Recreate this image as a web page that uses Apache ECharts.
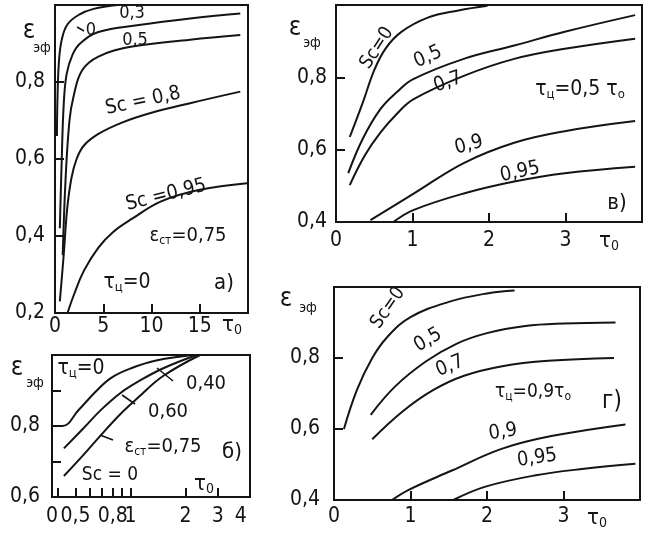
<!DOCTYPE html>
<html><head><meta charset="utf-8">
<script src="https://cdn.jsdelivr.net/npm/echarts@6/dist/echarts.min.js"></script>
<style>html,body{margin:0;padding:0;background:#fff}#c{width:665px;height:534px}</style>
</head><body><div id="c"></div>
<script>
// ---------- Panel а) : tau_ts = 0, eps_st = 0.75 ----------
const aSc0   = [[0.2,0.66],[0.25,0.75],[0.4,0.85],[0.7,0.91],[1.3,0.95],[2.5,0.975],[4,0.99],[6.5,1.0]];
const aSc03  = [[0.5,0.42],[0.7,0.6],[0.9,0.74],[1.2,0.82],[1.8,0.87],[2.6,0.9],[4.5,0.93],[8.7,0.948],[14,0.965],[19.2,0.978]];
const aSc05  = [[0.8,0.35],[1.1,0.55],[1.5,0.7],[1.9,0.76],[2.8,0.83],[4.5,0.866],[8,0.892],[14,0.91],[19.2,0.922]];
const aSc08  = [[0.5,0.23],[0.9,0.35],[1.26,0.47],[1.7,0.55],[2.24,0.6],[3,0.635],[4.5,0.665],[7,0.695],[10,0.72],[14,0.745],[19.2,0.775]];
const aSc095 = [[1.3,0.2],[2,0.25],[3,0.31],[4.5,0.37],[6,0.41],[8,0.445],[11,0.49],[15,0.52],[19.9,0.537]];
// ---------- Panel б) : tau_ts = 0, Sc = 0, log tau_0 ----------
const bEps040 = [[0.372,0.8],[0.425,0.8],[0.52,0.845],[0.64,0.895],[0.78,0.935],[1.0,0.962],[1.4,0.985],[2.2,1.0]];
const bEps060 = [[0.432,0.737],[0.556,0.795],[0.685,0.844],[0.881,0.893],[1.1,0.925],[1.5,0.962],[2.3,1.0]];
const bEps075 = [[0.432,0.659],[0.556,0.72],[0.685,0.773],[0.881,0.834],[1.1,0.88],[1.5,0.94],[2.4,1.0]];
const bTickValues  = [0.4,0.5,0.6,0.7,0.8,0.9,1,2,3];
const bLabelValues = [0.372,0.5,0.8,1,2,3,4];
// ---------- Panel в) : tau_ts = 0.5 tau_0 ----------
const vSc0   = [[0.18,0.635],[0.35,0.73],[0.5,0.82],[0.65,0.88],[0.85,0.925],[1.2,0.965],[1.6,0.985],[1.98,0.998]];
const vSc05  = [[0.16,0.535],[0.35,0.63],[0.58,0.712],[0.8,0.76],[1.01,0.795],[1.67,0.851],[2.33,0.888],[2.99,0.926],[3.91,0.972]];
const vSc07  = [[0.18,0.502],[0.38,0.585],[0.58,0.647],[0.8,0.7],[1.01,0.739],[1.67,0.804],[2.33,0.851],[2.99,0.879],[3.91,0.907]];
const vSc09  = [[0.45,0.405],[1.02,0.479],[1.67,0.563],[2.33,0.619],[2.99,0.651],[3.91,0.679]];
const vSc095 = [[0.75,0.4],[1.01,0.433],[1.67,0.479],[2.33,0.512],[2.99,0.535],[3.91,0.553]];
// ---------- Panel г) : tau_ts = 0.9 tau_0 ----------
const gSc0   = [[0.13,0.6],[0.3,0.71],[0.5,0.8],[0.7,0.86],[1.0,0.915],[1.5,0.958],[2.0,0.982],[2.36,0.99]];
const gSc05  = [[0.48,0.64],[0.8,0.72],[1.2,0.79],[1.6,0.84],[2.0,0.87],[2.5,0.89],[3.0,0.897],[3.68,0.9]];
const gSc07  = [[0.5,0.571],[0.9,0.65],[1.3,0.71],[1.7,0.75],[2.2,0.777],[2.8,0.792],[3.66,0.8]];
const gSc09  = [[0.76,0.4],[0.97,0.428],[1.54,0.483],[2.19,0.544],[2.84,0.58],[3.81,0.613]];
const gSc095 = [[1.56,0.4],[1.97,0.437],[2.62,0.469],[3.27,0.488],[3.94,0.502]];

const FONT = "'DejaVu Sans Condensed','Liberation Sans Narrow','DejaVu Sans',sans-serif";
const INK = '#141414';
const comma = v => String(Math.round(v*100)/100).replace('.', ',');

const chart = echarts.init(document.getElementById('c'), null, {renderer:'canvas'});

function xAx(grid, min, max, interval, margin, extra) {
  return Object.assign({
    type:'value', gridIndex:grid, min, max, interval,
    axisLine:{show:true, onZero:false, lineStyle:{color:INK, width:2}},
    axisTick:{show:true, inside:true, length:9, lineStyle:{color:INK, width:2}},
    splitLine:{show:false},
    axisLabel:{color:INK, fontFamily:FONT, fontSize:21, margin,
      formatter: v => (v >= max - 1e-9 ? '' : comma(v))}
  }, extra || {});
}
function yAx(grid, min, max, interval, margin, extra) {
  return Object.assign({
    type:'value', gridIndex:grid, min, max, interval,
    axisLine:{show:true, onZero:false, lineStyle:{color:INK, width:2}},
    axisTick:{show:true, inside:true, length:9, lineStyle:{color:INK, width:2}},
    splitLine:{show:false},
    axisLabel:{color:INK, fontFamily:FONT, fontSize:21, margin,
      formatter: v => (v >= max - 1e-9 ? '' : comma(v))}
  }, extra || {});
}
function line(data, xi) {
  return {type:'line', xAxisIndex:xi, yAxisIndex:xi, data, symbol:'none', smooth:0.4,
    clip:true, lineStyle:{color:INK, width:2}, silent:true, animation:false};
}
function txt(x, y, text, size, rot, extra) {
  return Object.assign({type:'text', x, y, rotation:(rot||0)*Math.PI/180, silent:true,
    style:{text, fill:INK, font: (size||19)+'px '+FONT, align:'center', verticalAlign:'middle'}}, extra||{});
}
function rich(x, y, text, size, rot) {
  const s = size || 20;
  return {type:'text', x, y, rotation:(rot||0)*Math.PI/180, silent:true,
    style:{text, fill:INK, fontFamily:FONT, fontSize:s, align:'center', verticalAlign:'middle',
      rich:{ s:{fontFamily:FONT, fontSize:Math.round(s*0.62), fill:INK, padding:[Math.round(s*0.45),0,0,0]} }}};
}
function seg(x1,y1,x2,y2){ return {type:'line', silent:true, shape:{x1,y1,x2,y2}, style:{stroke:INK, lineWidth:1.6}}; }

const gridStyle = {show:true, borderColor:INK, borderWidth:2, backgroundColor:'transparent', containLabel:false};

chart.setOption({
  animation:false,
  backgroundColor:'#fff',
  grid:[
    Object.assign({left:55, top:5, width:193, height:308}, gridStyle),
    Object.assign({left:52, top:355, width:198, height:142}, gridStyle),
    Object.assign({left:336, top:5, width:306, height:217}, gridStyle),
    Object.assign({left:334, top:287, width:306, height:213}, gridStyle)
  ],
  xAxis:[
    xAx(0, 0, 20, 5, 3),
    {type:'log', gridIndex:1, logBase:10, min:0.372, max:4.5,
      axisLine:{show:true, onZero:false, lineStyle:{color:INK, width:2}},
      axisTick:{show:true, inside:true, length:9, lineStyle:{color:INK, width:2}, customValues:bTickValues},
      splitLine:{show:false}, minorTick:{show:false},
      axisLabel:{color:INK, fontFamily:FONT, fontSize:21, margin:9, customValues:bLabelValues,
        formatter: v => (v < 0.45 ? '0' : comma(v))}},
    xAx(2, 0, 4, 1, 8),
    xAx(3, 0, 4, 1, 6)
  ],
  yAxis:[
    yAx(0, 0.2, 1.0, 0.2, 10),
    yAx(1, 0.6, 1.0, 0.1, 12, {axisLabel:{color:INK, fontFamily:FONT, fontSize:21, margin:12,
      formatter: v => (Math.abs(v-0.6)<1e-6 || Math.abs(v-0.8)<1e-6 ? comma(v) : '')}}),
    yAx(2, 0.4, 1.0, 0.2, 9),
    yAx(3, 0.4, 1.0, 0.2, 14)
  ],
  series:[
    line(aSc0,0), line(aSc03,0), line(aSc05,0), line(aSc08,0), line(aSc095,0),
    line(bEps040,1), line(bEps060,1), line(bEps075,1),
    line(vSc0,2), line(vSc05,2), line(vSc07,2), line(vSc09,2), line(vSc095,2),
    line(gSc0,3), line(gSc05,3), line(gSc07,3), line(gSc09,3), line(gSc095,3)
  ],
  graphic:[
    // panel а)
    txt(29,31,'ε',26), txt(42,48,'эф',14),
    txt(91,30,'0',18), seg(84,31,77,27),
    txt(132,13,'0,3',18), txt(135,40,'0,5',18),
    txt(143,101,'Sc = 0,8',20,12),
    txt(166,195,'Sc =0,95',20,14),
    rich(188,236,'ε{s|ст}=0,75',20),
    rich(127,283,'τ{s|ц}=0',21),
    txt(224,283,'а)',22),
    rich(232,325,'τ{s|0}',22),
    // panel б)
    txt(17,368,'ε',26), txt(35,383,'эф',14),
    rich(81,369,'τ{s|ц}=0',21),
    txt(206,384,'0,40',20), seg(173,381,157,368),
    txt(168,412,'0,60',20), seg(135,404,122,395),
    rich(163,447,'ε{s|ст}=0,75',20), seg(113,440,100,435),
    txt(232,452,'б)',22),
    txt(110,475,'Sc = 0',19),
    rich(204,484,'τ{s|0}',22),
    // panel в)
    txt(295,28,'ε',26), txt(312,43,'эф',14),
    txt(377,48,'Sc=0',19,57),
    txt(428,57,'0,5',20,24),
    txt(448,82,'0,7',20,20),
    rich(580,90,'τ{s|ц}=0,5 τ{s|o}',21),
    txt(469,145,'0,9',20,15),
    txt(520,172,'0,95',20,12),
    txt(617,203,'в)',22),
    rich(609,241,'τ{s|0}',22),
    // panel г)
    txt(286,299,'ε',26), txt(308,308,'эф',14),
    txt(388,308,'Sc=0',19,55),
    txt(428,340,'0,5',20,30),
    txt(450,366,'0,7',20,22),
    rich(533,392,'τ{s|ц}=0,9τ{s|o}',19),
    txt(612,402,'г)',24),
    txt(503,432,'0,9',20,8),
    txt(537,458,'0,95',20,8),
    rich(597,518,'τ{s|0}',22)
  ]
});
</script></body></html>
